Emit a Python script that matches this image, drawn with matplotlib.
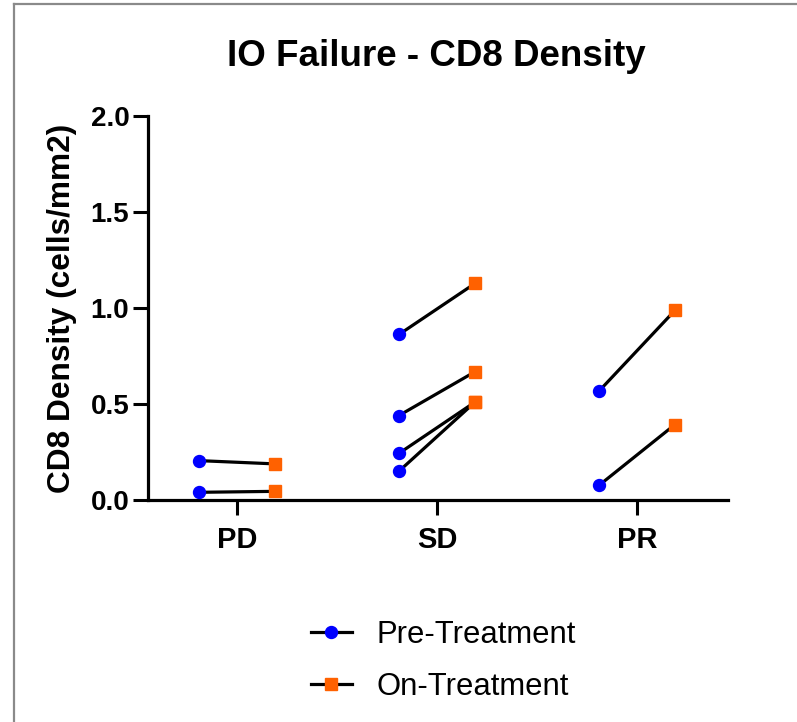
import matplotlib
matplotlib.use("Agg")
import matplotlib.pyplot as plt
from matplotlib.lines import Line2D
import numpy as np

plt.rcParams["font.family"] = ["Liberation Sans", "DejaVu Sans"]

# CD8 density per patient, before and during treatment
groups = ["PD", "SD", "PR"]
pd_pre = [0.205, 0.040]
pd_on = [0.188, 0.045]
sd_pre = [0.862, 0.440, 0.243, 0.150]
sd_on = [1.128, 0.668, 0.510, 0.510]
pr_pre = [0.567, 0.076]
pr_on = [0.988, 0.393]

pre_values = [pd_pre, sd_pre, pr_pre]
on_values = [pd_on, sd_on, pr_on]

PRE_COLOR = "#0000ff"
ON_COLOR = "#ff6100"
offset = 0.19

fig = plt.figure(figsize=(7.97, 7.22), dpi=100)
ax = fig.add_axes([0.1857, 0.3075, 0.7277, 0.5318])

for i, (pre, on) in enumerate(zip(pre_values, on_values)):
    for a, b in zip(pre, on):
        ax.plot([i - offset, i + offset], [a, b], color="black", lw=2.3, zorder=2)
    ax.plot([i - offset] * len(pre), pre, "o", color=PRE_COLOR, ms=8.6,
            mec=PRE_COLOR, zorder=3)
    ax.plot([i + offset] * len(on), on, "s", color=ON_COLOR, ms=8.3,
            mec=ON_COLOR, zorder=3)

ax.set_xlim(-0.445, 2.455)
ax.set_ylim(0, 2.0)
ax.set_xticks(range(len(groups)))
ax.set_xticklabels(groups, fontsize=21, fontweight="bold")
ax.set_yticks([0.0, 0.5, 1.0, 1.5, 2.0])
ax.set_yticklabels(["0.0", "0.5", "1.0", "1.5", "2.0"], fontsize=20, fontweight="bold")
ax.tick_params(axis="both", width=2.2, length=10.5, color="black")
ax.tick_params(axis="x", pad=8)
ax.tick_params(axis="y", pad=3)

for side in ("top", "right"):
    ax.spines[side].set_visible(False)
for side in ("left", "bottom"):
    ax.spines[side].set_linewidth(2.3)
    ax.spines[side].set_color("black")

ax.set_ylabel("CD8 Density (cells/mm2)", fontsize=22.8, fontweight="bold", labelpad=10)
fig.text(0.548, 0.922, "IO Failure - CD8 Density", ha="center", va="center",
         fontsize=26.5, fontweight="bold")

handles = [
    Line2D([], [], color="black", lw=2.3, marker="o", ms=8.6,
           mfc=PRE_COLOR, mec=PRE_COLOR),
    Line2D([], [], color="black", lw=2.3, marker="s", ms=8.3,
           mfc=ON_COLOR, mec=ON_COLOR),
]
fig.legend(handles, ["Pre-Treatment", "On-Treatment"], loc="upper left",
           bbox_to_anchor=(0.3906, 0.141), bbox_transform=fig.transFigure,
           frameon=False, fontsize=22.3, handlelength=1.3, handletextpad=0.8,
           labelspacing=0.7, borderpad=0, borderaxespad=0)

# thin grey frame on the top and left edges
fig.add_artist(Line2D([14 / 797, 14 / 797], [0, 1 - 4 / 722], transform=fig.transFigure,
                      color="#8a8a8a", lw=1.6))
fig.add_artist(Line2D([14 / 797, 1], [1 - 4 / 722, 1 - 4 / 722], transform=fig.transFigure,
                      color="#8a8a8a", lw=1.6))

fig.savefig("out.png", dpi=100)
